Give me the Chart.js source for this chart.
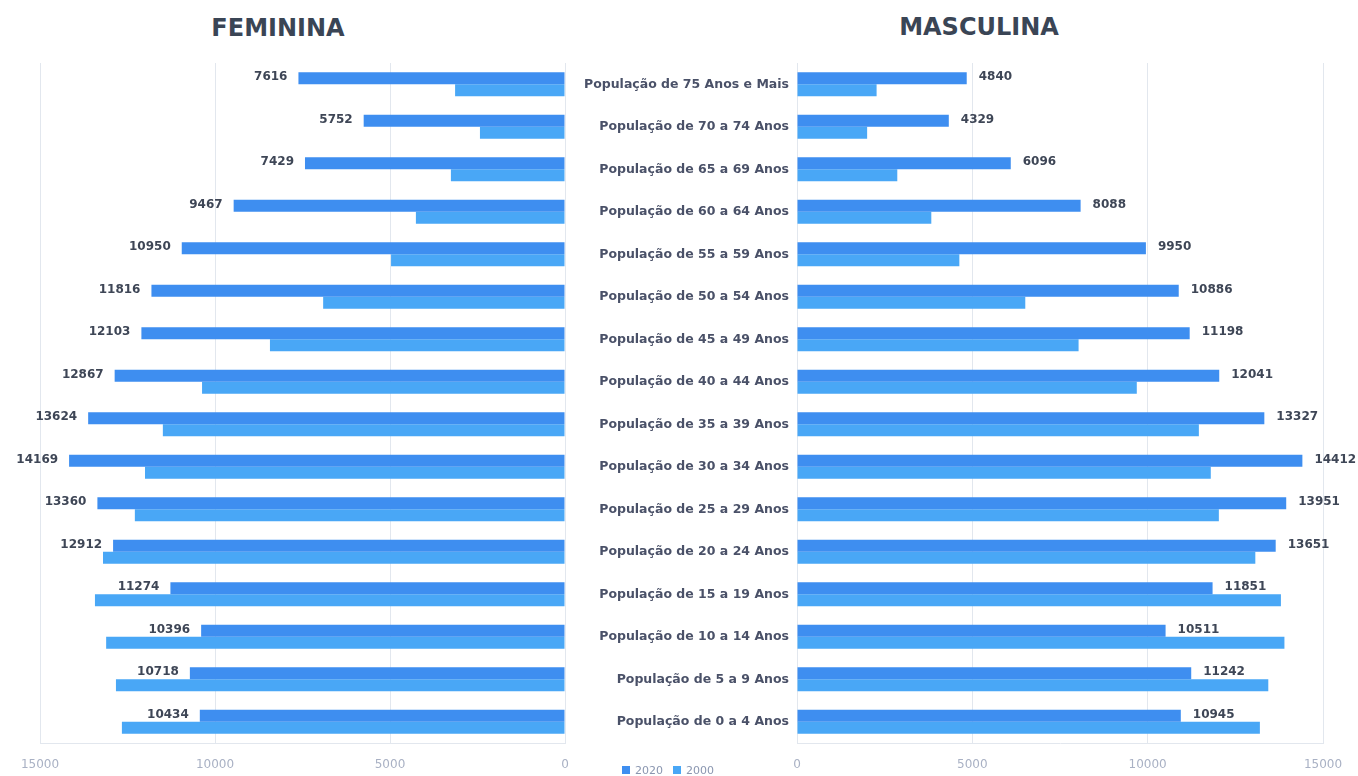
<!DOCTYPE html>
<html>
<head>
<meta charset="utf-8">
<script src="https://cdn.jsdelivr.net/npm/chart.js@4.4.1/dist/chart.umd.min.js"></script>
<style>
  html, body { margin:0; padding:0; background:#ffffff; width:1358px; height:776px; overflow:hidden; font-family:"DejaVu Sans", sans-serif; }
  #leftBox { position:absolute; left:0; top:0; width:580px; height:776px; }
  #rightBox { position:absolute; left:560px; top:0; width:798px; height:776px; }
  .title { position:absolute; font-family:"DejaVu Sans", sans-serif; font-weight:bold; font-size:24px; color:#3a4555; transform:translate(-50%,-50%); white-space:nowrap; }
  #legend { position:absolute; left:622px; top:763px; font-size:11px; color:#8a96b0; white-space:nowrap; }
  #legend span.sw { display:inline-block; width:8px; height:8px; margin-right:5px; vertical-align:middle; }
  #legend span.tx { vertical-align:middle; margin-right:10px; }
</style>
</head>
<body>
<div class="title" style="left:278px; top:28px;">FEMININA</div>
<div class="title" style="left:979px; top:27px;">MASCULINA</div>
<div id="leftBox"><canvas id="leftChart"></canvas></div>
<div id="rightBox"><canvas id="rightChart"></canvas></div>
<div id="legend"><span class="sw" style="background:#3e8ef0"></span><span class="tx">2020</span><span class="sw" style="background:#49a7f6"></span><span class="tx">2000</span></div>
<script>
// ---- data ----
const categories = [
  "População de 75 Anos e Mais",
  "População de 70 a 74 Anos",
  "População de 65 a 69 Anos",
  "População de 60 a 64 Anos",
  "População de 55 a 59 Anos",
  "População de 50 a 54 Anos",
  "População de 45 a 49 Anos",
  "População de 40 a 44 Anos",
  "População de 35 a 39 Anos",
  "População de 30 a 34 Anos",
  "População de 25 a 29 Anos",
  "População de 20 a 24 Anos",
  "População de 15 a 19 Anos",
  "População de 10 a 14 Anos",
  "População de 5 a 9 Anos",
  "População de 0 a 4 Anos"
];
const seriesNames = ["2020", "2000"];
const female2020 = [7616, 5752, 7429, 9467, 10950, 11816, 12103, 12867, 13624, 14169, 13360, 12912, 11274, 10396, 10718, 10434];
const female2000 = [3140, 2430, 3260, 4260, 4970, 6910, 8430, 10370, 11490, 12000, 12290, 13200, 13430, 13110, 12830, 12660];
const male2020 = [4840, 4329, 6096, 8088, 9950, 10886, 11198, 12041, 13327, 14412, 13951, 13651, 11851, 10511, 11242, 10945];
const male2000 = [2270, 2000, 2860, 3830, 4630, 6510, 8030, 9690, 11460, 11800, 12030, 13070, 13800, 13900, 13440, 13200];
const axisMin = 0;
const axisMax = 15000;
const axisStep = 5000;

// ---- styles ----
const COLOR_2020 = '#3e8ef0';
const COLOR_2000 = '#49a7f6';
const GRID = '#e2e7ee';
const TICK_COLOR = '#a9b1c4';

const valueLabels = {
  id: 'valueLabels',
  afterDatasetsDraw(chart, args, opts) {
    const meta = chart.getDatasetMeta(0);
    const ds = chart.data.datasets[0].data;
    const ctx = chart.ctx;
    ctx.save();
    ctx.font = 'bold 12px "DejaVu Sans"';
    ctx.fillStyle = '#3e4656';
    ctx.textBaseline = 'middle';
    ctx.textAlign = opts.side === 'left' ? 'right' : 'left';
    meta.data.forEach((bar, i) => {
      const x = opts.side === 'left' ? bar.x - 11 : bar.x + 12;
      ctx.fillText(String(ds[i]), x, bar.y - 1);
    });
    ctx.restore();
  }
};

function makeDatasets(d2020, d2000) {
  return [
    { label: seriesNames[0], data: d2020, backgroundColor: COLOR_2020, categoryPercentage: 0.565, barPercentage: 1.0 },
    { label: seriesNames[1], data: d2000, backgroundColor: COLOR_2000, categoryPercentage: 0.565, barPercentage: 1.0 }
  ];
}

const xTicks = {
  stepSize: axisStep, padding: 15, color: TICK_COLOR,
  font: { family: '"DejaVu Sans"', size: 12 },
  callback: (v) => String(v)
};

function fitX(scale) {
  scale.height = 30;
  scale.paddingLeft = 0;
  scale.paddingRight = 0;
}

new Chart(document.getElementById('leftChart'), {
  type: 'bar',
  data: { labels: categories, datasets: makeDatasets(female2020, female2000) },
  plugins: [valueLabels],
  options: {
    indexAxis: 'y',
    responsive: true,
    maintainAspectRatio: false,
    animation: false,
    layout: { padding: { left: 40, right: 15, top: 63, bottom: 3 } },
    plugins: { legend: { display: false }, tooltip: { enabled: false }, valueLabels: { side: 'left' } },
    scales: {
      x: {
        reverse: true, min: axisMin, max: axisMax,
        ticks: xTicks,
        grid: { color: GRID, drawTicks: false },
        border: { display: true, color: GRID },
        afterFit: fitX
      },
      y: { display: false }
    }
  }
});

new Chart(document.getElementById('rightChart'), {
  type: 'bar',
  data: { labels: categories, datasets: makeDatasets(male2020, male2000) },
  plugins: [valueLabels],
  options: {
    indexAxis: 'y',
    responsive: true,
    maintainAspectRatio: false,
    animation: false,
    layout: { padding: { left: 0, right: 35, top: 63, bottom: 3 } },
    plugins: { legend: { display: false }, tooltip: { enabled: false }, valueLabels: { side: 'right' } },
    scales: {
      x: {
        min: axisMin, max: axisMax,
        ticks: xTicks,
        grid: { color: GRID, drawTicks: false },
        border: { display: true, color: GRID },
        afterFit: fitX
      },
      y: {
        position: 'left',
        ticks: { padding: 8, color: '#4a5168', font: { family: '"DejaVu Sans"', size: 12.5, weight: 'bold' } },
        grid: { display: false, drawTicks: false },
        border: { display: false },
        afterFit(scale) { scale.width = 237; }
      }
    }
  }
});
</script>
</body>
</html>
